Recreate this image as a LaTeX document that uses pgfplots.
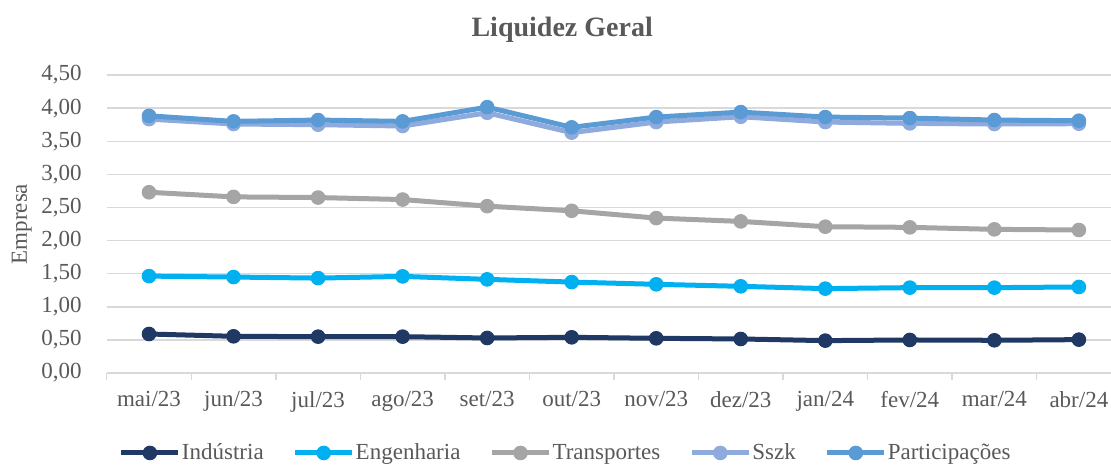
\documentclass[border=0pt]{standalone}
\usepackage{fontspec}
\setmainfont{Liberation Serif}
\usepackage{pgfplots}
\pgfplotsset{compat=1.18}

\definecolor{txt}{HTML}{595959}
\definecolor{gridc}{HTML}{D9D9D9}
\definecolor{cInd}{HTML}{203864}
\definecolor{cEng}{HTML}{00B0F0}
\definecolor{cTra}{HTML}{A5A5A5}
\definecolor{cSsz}{HTML}{8FAADC}
\definecolor{cPar}{HTML}{5B9BD5}

\begin{document}
\begin{tikzpicture}
\begin{axis}[
    scale only axis,
    width=502pt, height=149pt,
    xmin=-0.5, xmax=11.38,
    ymin=0, ymax=4.5,
    clip=false,
    xtick={0,...,11},
    xticklabels={mai/23,jun/23,jul/23,ago/23,set/23,out/23,nov/23,dez/23,jan/24,fev/24,mar/24,abr/24},
    minor xtick={-0.5,0.5,...,10.5},
    ytick={0,0.5,...,4.5},
    ymajorgrids, grid style={gridc, line width=0.75pt},
    axis x line*=bottom, axis y line*=left,
    x axis line style={gridc, line width=0.75pt},
    y axis line style={draw=none},
    major tick length=0pt, minor tick length=3.5pt, tick align=outside,
    minor x tick style={gridc, line width=0.75pt},
    major tick style={draw=none},
    every tick label/.append style={font=\fontsize{11.5}{13}\selectfont, text=txt},
    /pgf/number format/fixed,
    /pgf/number format/fixed zerofill,
    /pgf/number format/precision=2,
    /pgf/number format/use comma,
    /pgf/number format/assume math mode=true,
    yticklabel style={xshift=-9pt},
    xticklabel style={yshift=-5.5pt},
    every axis y label/.style={at={(axis description cs:-0.0846,0.5)}, rotate=90, anchor=center, font=\fontsize{11.5}{13}\selectfont, text=txt},
    ylabel={Empresa},
    title={Liquidez Geral},
    every axis title/.style={at={(axis description cs:0.4535,1.152)}, anchor=center, font=\bfseries\fontsize{14}{17}\selectfont, text=txt},
    legend columns=5,
    legend style={at={(axis description cs:0.4565,-0.268)}, anchor=center, draw=none, fill=none,
        font=\fontsize{11.5}{13}\selectfont, text=txt, inner sep=0pt,
        /tikz/every even column/.append style={column sep=14pt},
        nodes={inner sep=0.5pt}},
    legend image code/.code={\draw[mark repeat=2, mark phase=2, #1] plot coordinates {(0pt,0pt) (14.25pt,0pt) (28.5pt,0pt)};},
    every axis plot/.append style={line width=2.5pt, mark=*, mark size=3.4pt},
]
\addplot[cInd, mark options={fill=cInd, draw=cInd, line width=0.5pt}] coordinates {
    (0,0.59) (1,0.555) (2,0.55) (3,0.55) (4,0.53) (5,0.54)
    (6,0.525) (7,0.515) (8,0.49) (9,0.50) (10,0.495) (11,0.505)};
\addlegendentry{Indústria}
\addplot[cEng, mark options={fill=cEng, draw=cEng, line width=0.5pt}] coordinates {
    (0,1.464) (1,1.45) (2,1.434) (3,1.46) (4,1.415) (5,1.374)
    (6,1.34) (7,1.31) (8,1.275) (9,1.29) (10,1.29) (11,1.30)};
\addlegendentry{Engenharia}
\addplot[cTra, mark options={fill=cTra, draw=cTra, line width=0.5pt}] coordinates {
    (0,2.73) (1,2.66) (2,2.65) (3,2.62) (4,2.52) (5,2.45)
    (6,2.34) (7,2.29) (8,2.21) (9,2.20) (10,2.17) (11,2.16)};
\addlegendentry{Transportes}
\addplot[cSsz, mark options={fill=cSsz, draw=cSsz, line width=0.5pt}] coordinates {
    (0,3.834) (1,3.76) (2,3.75) (3,3.73) (4,3.93) (5,3.63)
    (6,3.79) (7,3.87) (8,3.79) (9,3.77) (10,3.76) (11,3.765)};
\addlegendentry{Sszk}
\addplot[cPar, mark options={fill=cPar, draw=cPar, line width=0.5pt}] coordinates {
    (0,3.884) (1,3.80) (2,3.82) (3,3.80) (4,4.015) (5,3.71)
    (6,3.865) (7,3.94) (8,3.865) (9,3.85) (10,3.82) (11,3.81)};
\addlegendentry{Participações}
\coordinate (bbl) at (axis description cs:-0.1063,-0.318);
\coordinate (btr) at (axis description cs:1,1.2517);
\end{axis}
\pgfresetboundingbox
\path[use as bounding box] (bbl) rectangle (btr);
\end{tikzpicture}
\end{document}
